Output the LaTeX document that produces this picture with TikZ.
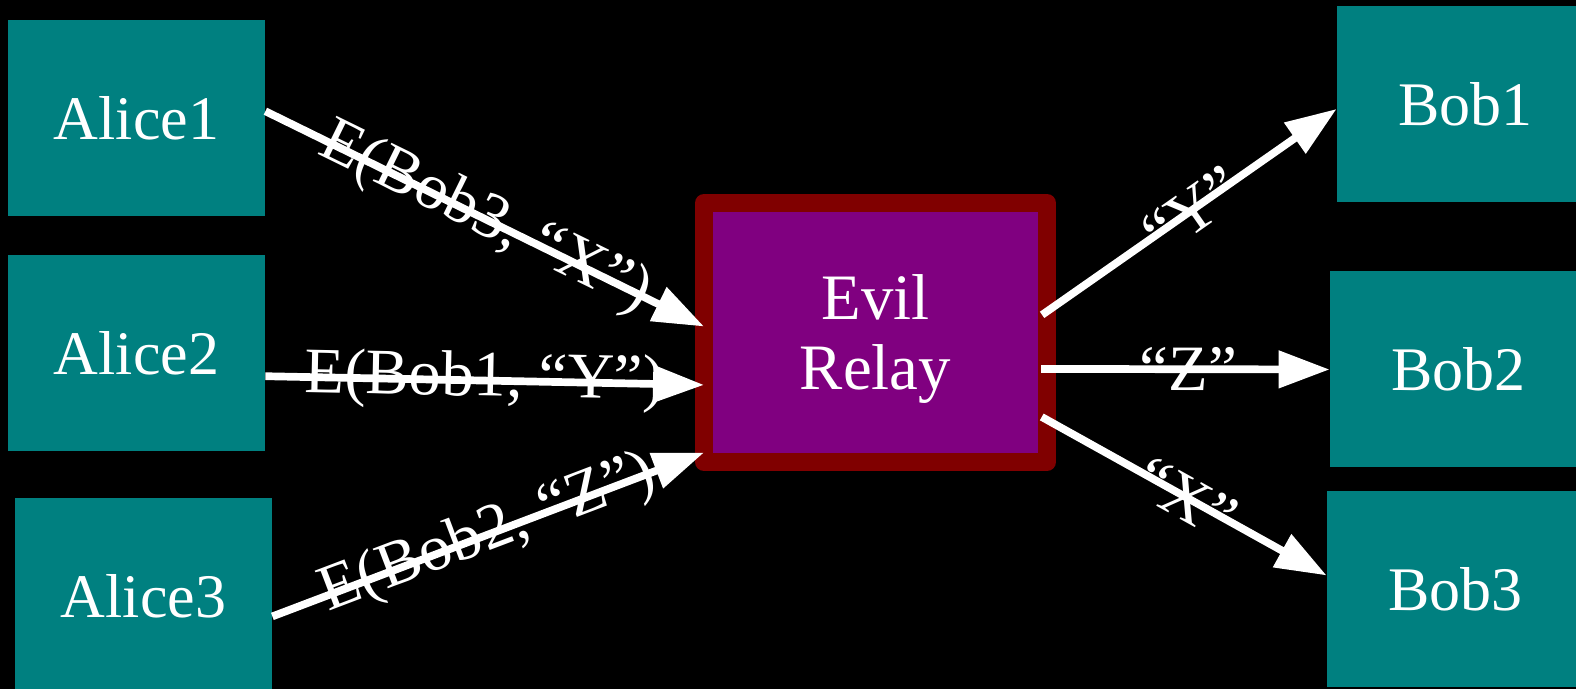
\documentclass[tikz,border=0pt]{standalone}
\usepackage{fontspec}
\setmainfont{Liberation Serif}
\usetikzlibrary{arrows.meta}
\definecolor{boxteal}{HTML}{008080}
\definecolor{relaypurple}{HTML}{800080}
\definecolor{relayred}{HTML}{800000}
\begin{document}
\begin{tikzpicture}[x=0.5pt, y=0.5pt, font=\fontsize{32.4}{35}\selectfont,
    party/.style = {rectangle, fill=boxteal, text=white, font=\fontsize{31}{35}\selectfont,
                    minimum width=128.5pt, minimum height=98pt},
    relay/.style = {rectangle, fill=relaypurple, draw=relayred, line width=9pt, line join=round,
                    outer sep=0pt, text=white, align=center, text depth=0pt,
                    minimum width=171.5pt, minimum height=129.5pt},
    msg/.style = {draw=white, line width=3.85pt, -{Triangle[length=25.5pt, width=18pt]}},
    fwd/.style = {msg, shorten <=-3pt},
    lbl/.style = {midway, sloped, text=white, inner sep=0pt}]
    \useasboundingbox[fill=black] (0,0) rectangle (1576,689);
    % senders
    \node [party] (A1) at (136.5,571) {Alice1};
    \node [party] (A2) at (136.5,335.5) {Alice2};
    \node [party] (A3) at (143.5,93) {Alice3};
    % receivers
    \node [party] (B1) at (1465.5,584.5) {Bob1};
    \node [party] (B2) at (1458.5,319.5) {Bob2};
    \node [party] (B3) at (1455.5,100) {Bob3};
    \node [relay] (R) at (875.5,356.5) {Evil\\Relay};
    % messages in
    \draw [msg] (A1.3.1) -- (R.178.7) node [lbl] {E(Bob3, “X”)};
    \draw [msg] (A2.-10.7) -- (R.197.7) node [lbl] {E(Bob1, “Y”)};
    \draw [msg] (A3.-9.7) -- (R.215.5) node [lbl] {E(Bob2, “Z”)};
    % messages out
    \draw [fwd] (R.7.5) -- (B1.182.7) node [lbl] {“Y”};
    \draw [fwd] (R.-12.65) -- (B2.180.9) node [lbl] {“Z”};
    \draw [fwd] (R.-27.5) -- (B3.174.4) node [lbl] {“X”};
\end{tikzpicture}
\end{document}
